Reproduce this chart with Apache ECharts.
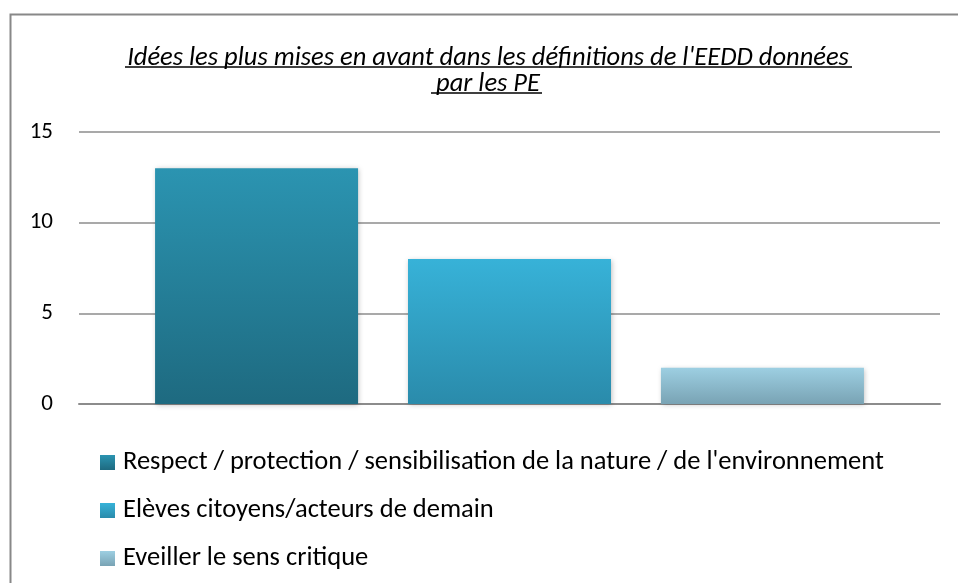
<!DOCTYPE html>
<html lang="fr">
<head>
    <meta charset="UTF-8">
    <title>Idées EEDD</title>
    <script src="https://cdn.jsdelivr.net/npm/echarts@6/dist/echarts.min.js"></script>
    <style>
        html, body { margin: 0; padding: 0; background: #fff; }
        #main { width: 958px; height: 583px; }
    </style>
</head>
<body>
<div id="main"></div>
<script type="text/javascript">
    // données
    var categories = ['PE'];
    var seriesNames = [
        'Respect / protection / sensibilisation de la nature / de l\'environnement',
        'Elèves citoyens/acteurs de demain',
        'Eveiller le sens critique'
    ];
    var seriesValues = [13, 8, 2];
    var yTicks = [0, 5, 10, 15];

    var colorsTop = ['#2b94b1', '#37b2d8', '#9dcfe2'];
    var colorsBottom = ['#1e6a80', '#2a8bab', '#79a3b4'];
    var font = 'Carlito, Lato, sans-serif';

    var myChart = echarts.init(document.getElementById('main'));

    var series = [];
    for (var i = 0; i < seriesNames.length; i++) {
        series.push({
            name: seriesNames[i],
            type: 'bar',
            data: [seriesValues[i]],
            barWidth: 203,
            barGap: '24.6%',
            itemStyle: {
                color: new echarts.graphic.LinearGradient(0, 0, 0, 1, [
                    {offset: 0, color: colorsTop[i]},
                    {offset: 1, color: colorsBottom[i]}
                ]),
                shadowColor: 'rgba(0,0,0,0.25)',
                shadowBlur: 5,
                shadowOffsetX: 1,
                shadowOffsetY: 1
            }
        });
    }

    var option = {
        animation: false,
        textStyle: {fontFamily: font},
        title: {
            text: 'Idées les plus mises en avant dans les définitions de l\'EEDD données\npar les PE',
            left: 483,
            textAlign: 'center',
            top: 40,
            textStyle: {
                fontFamily: font,
                fontStyle: 'italic',
                fontWeight: 'normal',
                fontSize: 26.5,
                lineHeight: 26,
                color: '#000'
            }
        },
        legend: {
            orient: 'vertical',
            left: 95,
            top: 444,
            itemWidth: 15,
            itemHeight: 15,
            itemGap: 21,
            icon: 'rect',
            textStyle: {fontFamily: font, fontSize: 26.5, color: '#000', padding: [0, 0, 0, 3]},
            data: seriesNames
        },
        grid: {left: 79, right: 18, top: 132, bottom: 179},
        xAxis: {
            type: 'category',
            data: categories,
            axisLine: {lineStyle: {color: '#8c8c8c', width: 2}},
            axisTick: {show: false},
            axisLabel: {show: false}
        },
        yAxis: {
            type: 'value',
            min: yTicks[0],
            max: yTicks[yTicks.length - 1],
            interval: 5,
            axisLine: {show: false},
            axisTick: {show: false},
            axisLabel: {fontFamily: font, fontSize: 23, color: '#000', margin: 26},
            splitLine: {lineStyle: {color: '#8c8c8c', width: 1.5}}
        },
        graphic: [
            {
                type: 'rect',
                shape: {x: 10.5, y: 14.5, width: 960, height: 600},
                style: {fill: 'none', stroke: '#888', lineWidth: 2},
                z: 100
            },
            {
                type: 'line',
                shape: {x1: 125, y1: 67, x2: 852, y2: 67},
                style: {stroke: '#000', lineWidth: 1.5}
            },
            {
                type: 'line',
                shape: {x1: 431, y1: 93, x2: 542, y2: 93},
                style: {stroke: '#000', lineWidth: 1.5}
            }
        ],
        series: series
    };

    myChart.setOption(option);
</script>
</body>
</html>
